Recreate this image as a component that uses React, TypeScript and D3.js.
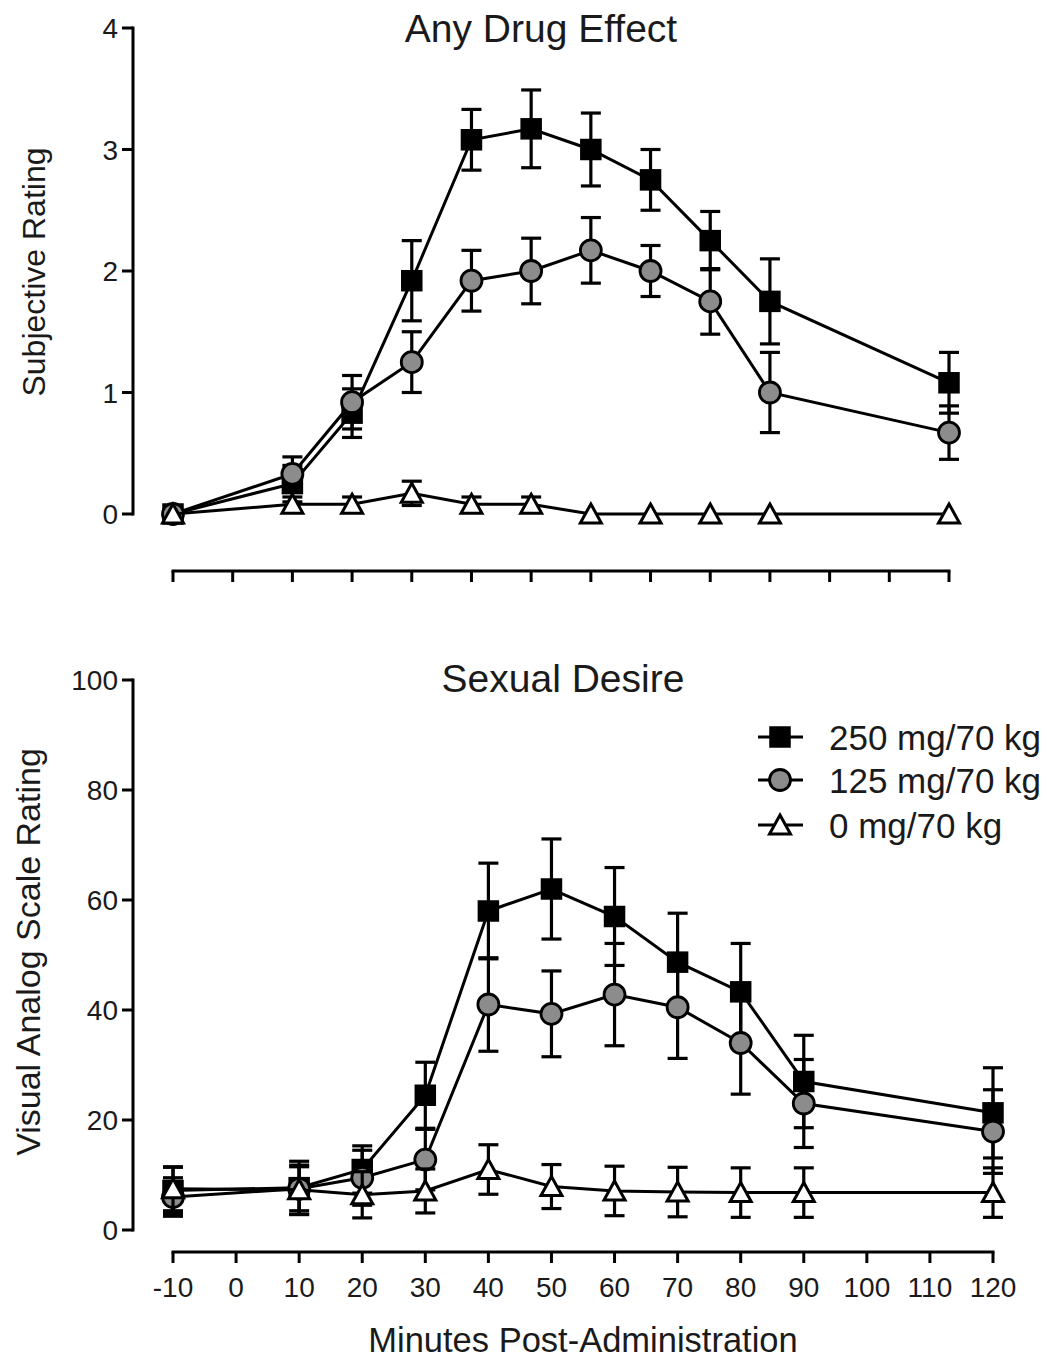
import React from "react";
import * as d3 from "d3";

const times = [-10, 10, 20, 30, 40, 50, 60, 70, 80, 90, 120];
const axisTicks = [-10, 0, 10, 20, 30, 40, 50, 60, 70, 80, 90, 100, 110, 120];
const axisTickLabels = ["-10", "0", "10", "20", "30", "40", "50", "60", "70", "80", "90", "100", "110", "120"];

// Any Drug Effect (0-4)
const drugHigh = [0, 0.25, 0.83, 1.92, 3.08, 3.17, 3.0, 2.75, 2.25, 1.75, 1.08];
const drugHighErr = [0, 0.15, 0.2, 0.33, 0.25, 0.32, 0.3, 0.25, 0.24, 0.35, 0.25];
const drugMid = [0, 0.33, 0.92, 1.25, 1.92, 2.0, 2.17, 2.0, 1.75, 1.0, 0.67];
const drugMidErr = [0, 0.14, 0.22, 0.25, 0.25, 0.27, 0.27, 0.21, 0.27, 0.33, 0.22];
const drugPlacebo = [0, 0.08, 0.08, 0.17, 0.08, 0.08, 0, 0, 0, 0, 0];
const drugPlaceboErr = [0, 0.06, 0.06, 0.1, 0.06, 0.06, 0, 0, 0, 0, 0];
const drugTicks = [0, 1, 2, 3, 4];

// Sexual Desire (0-100)
const sexHigh = [7.2, 7.7, 11, 24.5, 58, 62, 57, 48.7, 43.3, 27, 21.3];
const sexHighErr = [4.2, 4.8, 4.3, 6, 8.7, 9.1, 8.9, 8.9, 8.8, 8.4, 8.2];
const sexMid = [6, 7.5, 9.5, 12.8, 41, 39.3, 42.8, 40.5, 34, 23, 17.9];
const sexMidErr = [3.5, 4, 5, 5.5, 8.5, 7.8, 9.3, 9.3, 9.3, 8, 7.6];
const sexPlacebo = [7.5, 7.3, 6.4, 7.1, 11, 7.9, 7.1, 6.9, 6.8, 6.8, 6.8];
const sexPlaceboErr = [4, 4.5, 4.2, 4, 4.5, 4, 4.5, 4.5, 4.5, 4.5, 4.5];
const sexTicks = [0, 20, 40, 60, 80, 100];

const legendLabels = ["250 mg/70 kg", "125 mg/70 kg", "0 mg/70 kg"];
const markerKinds = ["square", "circle", "triangle"];

const FONT = "'Liberation Sans', Arial, Helvetica, sans-serif";
const GRAY = "#8c8c8c";
const INK = "#1a1a1a";

function Marker({ kind, x, y }: { kind: string; x: number; y: number }) {
  if (kind === "square") {
    return <rect x={x - 10} y={y - 10} width={20} height={20} fill="#000" stroke="#000" strokeWidth={1.5} />;
  }
  if (kind === "circle") {
    return <circle cx={x} cy={y} r={10.5} fill={GRAY} stroke="#000" strokeWidth={2.8} />;
  }
  const p = `M${x},${y - 10}L${x + 10.5},${y + 9}L${x - 10.5},${y + 9}Z`;
  return <path d={p} fill="#fff" stroke="#000" strokeWidth={3} strokeLinejoin="miter" />;
}

function Series({ xs, vals, errs, kind, x, y }: any) {
  const line = d3
    .line<number>()
    .x((_, i) => x(xs[i]))
    .y((v) => y(v));
  return (
    <g>
      <path d={line(vals) || ""} fill="none" stroke="#000" strokeWidth={3} />
      {vals.map((v: number, i: number) => {
        const e = errs[i];
        if (!e) return null;
        const cx = x(xs[i]);
        const y1 = y(v + e);
        const y2 = y(v - e);
        return (
          <g key={"e" + i} stroke="#000" strokeWidth={3.2}>
            <line x1={cx} x2={cx} y1={y1} y2={y2} />
            <line x1={cx - 10} x2={cx + 10} y1={y1} y2={y1} />
            <line x1={cx - 10} x2={cx + 10} y1={y2} y2={y2} />
          </g>
        );
      })}
      {vals.map((v: number, i: number) => (
        <Marker key={"m" + i} kind={kind} x={x(xs[i])} y={y(v)} />
      ))}
    </g>
  );
}

function YAxis({ y, ticks, x0 }: any) {
  const [lo, hi] = y.domain();
  return (
    <g>
      <line x1={x0} x2={x0} y1={y(lo) + 1.5} y2={y(hi) - 1.5} stroke="#000" strokeWidth={3} />
      {ticks.map((t: number) => (
        <g key={t}>
          <line x1={x0 - 11} x2={x0} y1={y(t)} y2={y(t)} stroke="#000" strokeWidth={3} />
          <text
            x={x0 - 15}
            y={y(t)}
            dy="0.36em"
            textAnchor="end"
            fontSize={28}
            fontFamily={FONT}
            fill={INK}
          >
            {t}
          </text>
        </g>
      ))}
    </g>
  );
}

function XAxis({ x, y0, labels }: any) {
  return (
    <g>
      <line x1={x(-10) - 1.5} x2={x(120) + 1.5} y1={y0} y2={y0} stroke="#000" strokeWidth={3} />
      {axisTicks.map((t, i) => (
        <g key={t}>
          <line x1={x(t)} x2={x(t)} y1={y0} y2={y0 + 11} stroke="#000" strokeWidth={3} />
          {labels ? (
            <text
              x={x(t)}
              y={y0 + 45}
              textAnchor="middle"
              fontSize={28}
              fontFamily={FONT}
              fill={INK}
            >
              {axisTickLabels[i]}
            </text>
          ) : null}
        </g>
      ))}
    </g>
  );
}

export default function App() {
  const xTop = d3.scaleLinear().domain([-10, 120]).range([173, 949]);
  const yTop = d3.scaleLinear().domain([0, 4]).range([514, 28]);
  const xBot = d3.scaleLinear().domain([-10, 120]).range([173, 993]);
  const yBot = d3.scaleLinear().domain([0, 100]).range([1230, 680]);

  const legendY = [737, 780, 825];

  return (
    <svg
      width={1047}
      height={1359}
      style={{ position: "absolute", left: 0, top: 0, background: "#fff" }}
    >
      <rect x={0} y={0} width={1047} height={1359} fill="#fff" />
      {/* Top panel */}
      <text x={541} y={42} textAnchor="middle" fontSize={39} fontFamily={FONT} fill={INK}>
        Any Drug Effect
      </text>
      <text
        transform="translate(45,272) rotate(-90)"
        textAnchor="middle"
        fontSize={32}
        fontFamily={FONT}
        fill={INK}
      >
        Subjective Rating
      </text>
      <YAxis y={yTop} ticks={drugTicks} x0={133} />
      <XAxis x={xTop} y0={571} labels={false} />
      <Series xs={times} vals={drugHigh} errs={drugHighErr} kind="square" x={xTop} y={yTop} />
      <Series xs={times} vals={drugMid} errs={drugMidErr} kind="circle" x={xTop} y={yTop} />
      <Series xs={times} vals={drugPlacebo} errs={drugPlaceboErr} kind="triangle" x={xTop} y={yTop} />

      {/* Bottom panel */}
      <text x={563} y={692} textAnchor="middle" fontSize={39} fontFamily={FONT} fill={INK}>
        Sexual Desire
      </text>
      <text
        transform="translate(40,952) rotate(-90)"
        textAnchor="middle"
        fontSize={34}
        fontFamily={FONT}
        fill={INK}
      >
        Visual Analog Scale Rating
      </text>
      <YAxis y={yBot} ticks={sexTicks} x0={133} />
      <XAxis x={xBot} y0={1252} labels={true} />
      <Series xs={times} vals={sexHigh} errs={sexHighErr} kind="square" x={xBot} y={yBot} />
      <Series xs={times} vals={sexMid} errs={sexMidErr} kind="circle" x={xBot} y={yBot} />
      <Series xs={times} vals={sexPlacebo} errs={sexPlaceboErr} kind="triangle" x={xBot} y={yBot} />
      <text x={583} y={1352} textAnchor="middle" fontSize={34.5} fontFamily={FONT} fill={INK}>
        Minutes Post-Administration
      </text>

      {/* Legend */}
      {legendLabels.map((lab, i) => (
        <g key={lab}>
          <line x1={758} x2={803} y1={legendY[i]} y2={legendY[i]} stroke="#000" strokeWidth={3} />
          <Marker kind={markerKinds[i]} x={780} y={legendY[i]} />
          <text
            x={829}
            y={legendY[i]}
            dy="0.36em"
            fontSize={35}
            fontFamily={FONT}
            fill={INK}
          >
            {lab}
          </text>
        </g>
      ))}
    </svg>
  );
}
